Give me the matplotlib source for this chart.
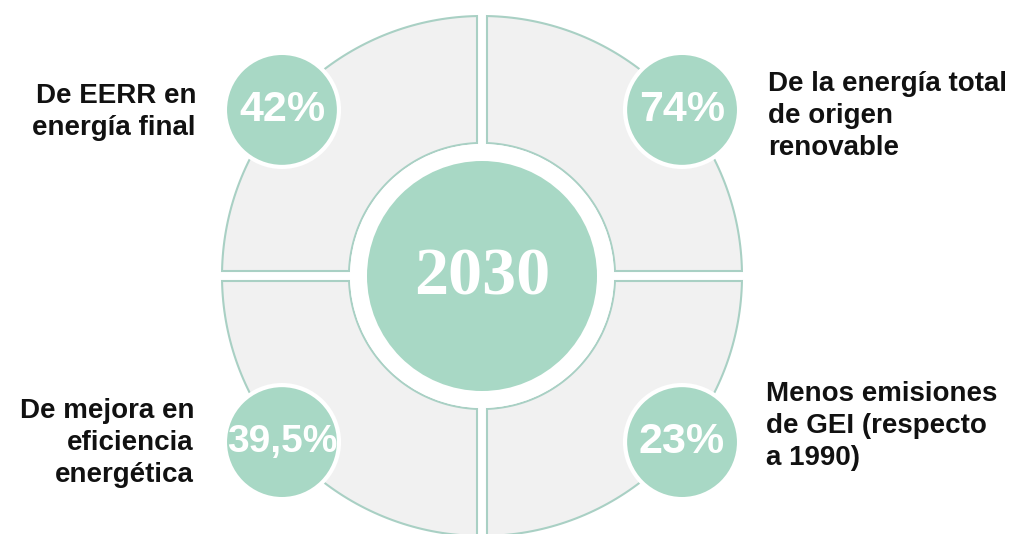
import numpy as np
import matplotlib.pyplot as plt
from matplotlib.patches import Circle, Polygon

# content
year = "2030"
percents = ["42%", "74%", "39,5%", "23%"]
labels = ["De EERR en\nenergía final",
          "De la energía total\nde origen\nrenovable",
          "De mejora en\neficiencia\nenergética",
          "Menos emisiones\nde GEI (respecto\na 1990)"]
# quadrant angle (deg, y up) for each bubble
angles = [140.3, 39.7, 219.7, 320.3]

green = "#a8d8c5"
ring_line = "#a9d0c4"
quad_fill = "#f1f1f1"

W, H = 1029, 534
fig = plt.figure(figsize=(W / 100, H / 100), dpi=100)
ax = fig.add_axes([0, 0, 1, 1])
ax.set_xlim(0, W)
ax.set_ylim(H, 0)
ax.set_aspect("equal")
ax.axis("off")

cx, cy = 482, 276
R_out, R_in, R_core = 260, 133, 115
g = 5  # half gap between quadrants


def quadrant(sx, sy):
    t_out = np.linspace(np.arcsin(g / R_out), np.arccos(g / R_out), 80)
    t_in = np.linspace(np.arccos(g / R_in), np.arcsin(g / R_in), 60)
    xs = np.concatenate([R_out * np.cos(t_out), R_in * np.cos(t_in)])
    ys = np.concatenate([R_out * np.sin(t_out), R_in * np.sin(t_in)])
    return np.column_stack([cx + sx * xs, cy - sy * ys])


for sx in (1, -1):
    for sy in (1, -1):
        ax.add_patch(Polygon(quadrant(sx, sy), closed=True, facecolor=quad_fill,
                             edgecolor=ring_line, linewidth=1.5, zorder=1))

# centre disc
ax.add_patch(Circle((cx, cy), R_in - 1, facecolor="white", edgecolor="none", zorder=2))
ax.add_patch(Circle((cx, cy), R_core, facecolor=green, edgecolor="none", zorder=3))
ax.text(cx, cy + 2, year, family="Liberation Serif", fontweight="bold", fontsize=49,
        color="white", ha="center", va="center", zorder=4)

# bubbles
r_b = 57
for pct, ang in zip(percents, angles):
    bx = cx + R_out * np.cos(np.radians(ang))
    by = cy - R_out * np.sin(np.radians(ang))
    ax.add_patch(Circle((bx, by), r_b, facecolor=green, edgecolor="white",
                        linewidth=3, zorder=5))
    ax.text(bx, by, pct, family="Liberation Sans", fontweight="bold",
            fontsize=31 if len(pct) < 5 else 28, color="white",
            ha="center", va="center", zorder=6)

# side labels
label_pos = [(196, 112, "right"), (768, 116, "left"), (194, 443, "right"), (766, 426, "left")]
for txt, (lx, ly, ha) in zip(labels, label_pos):
    ax.text(lx, ly, txt, family="Liberation Sans", fontweight="bold", fontsize=20,
            color="#111111", ha=ha, va="center", multialignment=ha,
            linespacing=1.32, zorder=6)

fig.savefig("out.png", dpi=100)
